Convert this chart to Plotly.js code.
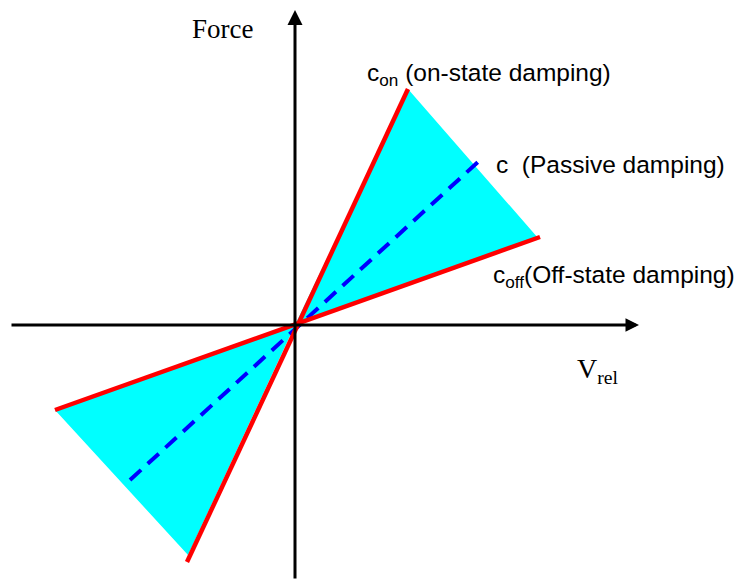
<!DOCTYPE html>
<html>
<head>
<meta charset="utf-8">
<script src="https://cdn.plot.ly/plotly-3.0.1.min.js"></script>
<style>html,body{margin:0;padding:0;background:#fff;}#chart{width:743px;height:580px;}</style>
</head>
<body>
<div id="chart"></div>
<script>
// Data (origin at the crossing of the axes; units ~ pixels, y up)
const onStateX = [-108, 113];
const onStateY = [-237, 236];
const offStateX = [-240, 245];
const offStateY = [-85, 88];
const passiveX = [-165, 183];
const passiveY = [-155, 163];
// Shaded region (two triangles between off-state and on-state lines)
const regionX = [0, 113, 243, 0, null, 0, -240, -107, 0];
const regionY = [0, 236, 87, 0, null, 0, -85, -230, 0];
// Axis extents
const xAxisExtent = [-285, 344];
const yAxisExtent = [-255, 315];
const labels = {
  on: 'c<sub>on</sub> (on-state damping)',
  passive: 'c  (Passive damping)',
  off: 'c<sub>off</sub>(Off-state damping)',
  force: 'Force',
  vrel: 'V<sub>rel</sub>'
};

const traces = [
  {x: regionX, y: regionY, type: 'scatter', mode: 'lines', fill: 'toself',
   fillcolor: '#00FFFF', line: {width: 0, color: '#00FFFF'}, hoverinfo: 'skip'},
  {x: passiveX, y: passiveY, type: 'scatter', mode: 'lines',
   line: {color: '#0000FF', width: 4, dash: '15px,9px'}},
  {x: onStateX, y: onStateY, type: 'scatter', mode: 'lines',
   line: {color: '#FF0000', width: 4.5}},
  {x: offStateX, y: offStateY, type: 'scatter', mode: 'lines',
   line: {color: '#FF0000', width: 4.5}}
];

const sans = 'Liberation Sans, Arial, sans-serif';
const serif = 'Liberation Serif, Times New Roman, serif';

const layout = {
  width: 743, height: 580,
  margin: {l: 0, r: 0, t: 0, b: 0},
  paper_bgcolor: '#fff', plot_bgcolor: '#fff',
  showlegend: false,
  xaxis: {range: [-295, 448], visible: false, fixedrange: true},
  yaxis: {range: [-255, 325], visible: false, fixedrange: true},
  annotations: [
    {x: xAxisExtent[1], y: 0, ax: xAxisExtent[0], ay: 0, axref: 'x', ayref: 'y',
     xref: 'x', yref: 'y', showarrow: true, arrowhead: 2, arrowsize: 0.9,
     arrowwidth: 3, arrowcolor: '#000', text: '', standoff: 0},
    {x: 0, y: yAxisExtent[1], ax: 0, ay: yAxisExtent[0], axref: 'x', ayref: 'y',
     xref: 'x', yref: 'y', showarrow: true, arrowhead: 2, arrowsize: 1.0,
     arrowwidth: 3, arrowcolor: '#000', text: '', standoff: 0},
    {x: 70, y: 251, xref: 'x', yref: 'y', text: labels.on, showarrow: false,
     xanchor: 'left', yanchor: 'middle', font: {family: sans, size: 24.5, color: '#000'}},
    {x: 199, y: 161, xref: 'x', yref: 'y', text: labels.passive, showarrow: false,
     xanchor: 'left', yanchor: 'middle', font: {family: sans, size: 24.5, color: '#000'}},
    {x: 196, y: 49, xref: 'x', yref: 'y', text: labels.off, showarrow: false,
     xanchor: 'left', yanchor: 'middle', font: {family: sans, size: 24.5, color: '#000'}},
    {x: -73, y: 296, xref: 'x', yref: 'y', text: labels.force, showarrow: false,
     xanchor: 'center', yanchor: 'middle', font: {family: serif, size: 27, color: '#000'}},
    {x: 280, y: -45, xref: 'x', yref: 'y', text: labels.vrel, showarrow: false,
     xanchor: 'left', yanchor: 'middle', font: {family: serif, size: 28, color: '#000'}}
  ]
};

Plotly.newPlot('chart', traces, layout, {displayModeBar: false, staticPlot: true});
</script>
</body>
</html>
